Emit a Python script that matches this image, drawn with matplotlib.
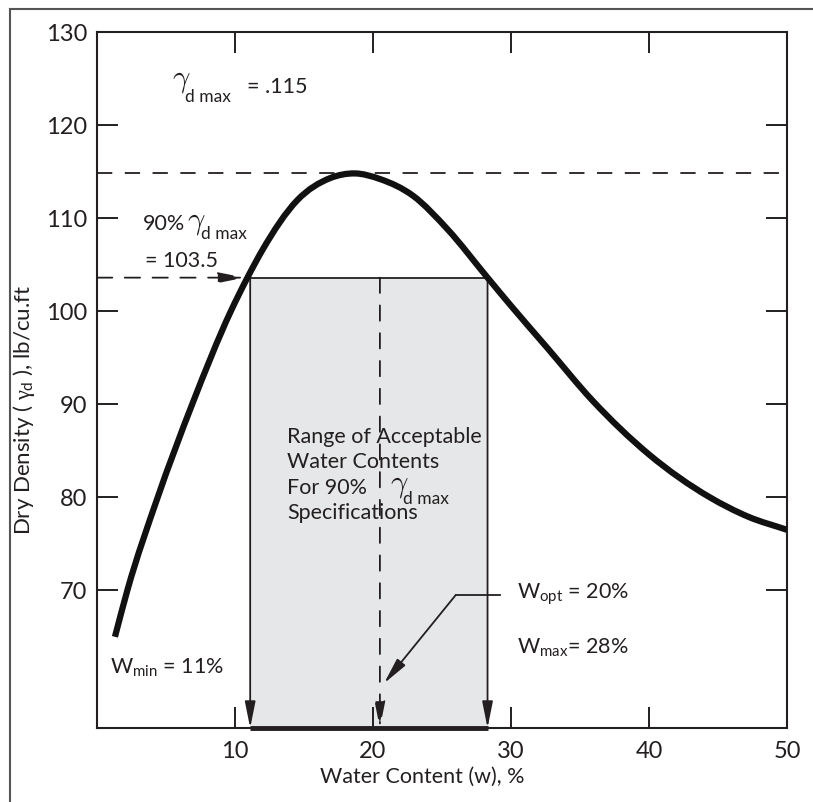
import numpy as np
import matplotlib
matplotlib.use('Agg')
import matplotlib.pyplot as plt
from matplotlib.lines import Line2D
from matplotlib.path import Path
from matplotlib.patches import PathPatch

# compaction curve
water = [1.3, 2.2, 4.4, 6.9, 9.7, 10.9, 12.0, 14.5, 16.9, 18.7, 20.5, 22.9,
         25.4, 28.3, 30.1, 32.6, 35.9, 40.0, 44.4, 47.2, 50.0]
density = [65.0, 70.0, 80.0, 90.0, 100.0, 103.6, 106.6, 111.9, 114.3, 114.8,
           114.2, 112.4, 108.8, 103.6, 100.4, 96.1, 90.4, 84.6, 80.0, 77.9, 76.5]

gamma_max = 114.8
gamma_90 = 103.6
w_min = 11.1
w_opt = 20.5
w_max = 28.3

x_ticks = [10, 20, 30, 40, 50]
y_ticks = [70, 80, 90, 100, 110, 120, 130]

range_lines = ['Range of Acceptable', 'Water Contents', 'For 90%', 'Specifications']

ink = '#231f20'
shade = '#e6e7e8'

plt.rcParams['font.family'] = ['Lato', 'DejaVu Sans']
plt.rcParams['mathtext.fontset'] = 'custom'
plt.rcParams['mathtext.rm'] = 'Lato'
plt.rcParams['mathtext.it'] = 'Liberation Serif'
plt.rcParams['lines.scale_dashes'] = False
plt.rcParams['text.color'] = ink

fig = plt.figure(figsize=(8.13, 8.02), dpi=100)
ax = fig.add_axes([97 / 813, 74 / 802, 690 / 813, 696 / 802])
x0, x1 = 0, 50
y0, y1 = 55.2, 130
ax.set_xlim(x0, x1)
ax.set_ylim(y0, y1)

for s in ax.spines.values():
    s.set_linewidth(1.5)
    s.set_color(ink)

ax.set_xticks(x_ticks)
ax.set_xticklabels([str(t) for t in x_ticks])
ax.set_yticks(y_ticks)
ax.set_yticklabels([str(t) for t in y_ticks])
ax.tick_params(direction='in', length=15, width=1.4, top=True, right=True,
               labelsize=17, color=ink, labelcolor=ink)
ax.tick_params(axis='x', pad=9)
ax.tick_params(axis='y', pad=7)

# acceptable range box
ax.fill_between([w_min, w_max], y0, gamma_90, color=shade, zorder=1, lw=0)
ax.plot([w_min, w_max], [gamma_90, gamma_90], color=ink, lw=1.3, zorder=2)
ax.plot([w_min, w_max], [y0, y0], color=ink, lw=3.5, zorder=5, clip_on=False,
        solid_capstyle='butt')

arrow = dict(arrowstyle='-|>,head_length=1.6,head_width=0.32', color=ink,
             lw=1.3, shrinkA=0, shrinkB=0, mutation_scale=10)
ax.annotate('', xy=(w_min, y0), xytext=(w_min, gamma_90), arrowprops=arrow)
ax.annotate('', xy=(w_max, y0), xytext=(w_max, gamma_90), arrowprops=arrow)

dashed = dict(arrow, linestyle=(0, (11, 9)))
ax.annotate('', xy=(w_opt, y0), xytext=(w_opt, gamma_90), arrowprops=dashed)
ax.annotate('', xy=(10.7, gamma_90), xytext=(x0, gamma_90), arrowprops=dashed)

ax.plot([x0, x1], [gamma_max, gamma_max], color=ink, lw=1.3, dashes=(11, 9))

# the curve: bezier path through the read points, slopes from neighbours
xs = np.array(water)
ys = np.array(density)
h = np.diff(xs)
d = np.diff(ys) / h
m = np.empty_like(ys)
m[0], m[-1] = d[0], d[-1]
m[1:-1] = (d[:-1] * h[1:] + d[1:] * h[:-1]) / (h[:-1] + h[1:])
verts = [(xs[0], ys[0])]
codes = [Path.MOVETO]
for i in range(len(xs) - 1):
    verts += [(xs[i] + h[i] / 3, ys[i] + m[i] * h[i] / 3),
              (xs[i + 1] - h[i] / 3, ys[i + 1] - m[i + 1] * h[i] / 3),
              (xs[i + 1], ys[i + 1])]
    codes += [Path.CURVE4] * 3
ax.add_patch(PathPatch(Path(verts, codes), fill=False, lw=4.5, ec='#111111',
                       zorder=4, capstyle='butt'))

# W_opt leader
ax.plot([29.2, 26.0], [69.5, 69.5], color=ink, lw=1.3)
ax.annotate('', xy=(20.8, 60.0), xytext=(26.0, 69.5), arrowprops=arrow)


def gamma_dmax(x, y, dy=-11):
    ax.text(x, y, r'$\gamma$', fontsize=22, math_fontfamily='cm', zorder=6)
    ax.annotate('d max', xy=(x, y), xytext=(10, dy), textcoords='offset points',
                fontsize=12.5, zorder=6)


fs = 15.5
gamma_dmax(5.4, 124.1)
ax.text(10.9, 123.4, '= .115', fontsize=fs)
ax.text(3.3, 108.7, '90%', fontsize=fs)
gamma_dmax(6.5, 108.9, dy=-8)
ax.text(3.5, 104.7, '= 103.5', fontsize=fs)
for k, line in enumerate(range_lines):
    ax.text(13.8, 85.8 - 2.7 * k, line, fontsize=fs, zorder=6)
gamma_dmax(21.2, 80.6, dy=-9)
ax.text(0.95, 61.1, r'W$_{\mathrm{min}}$ = 11%', fontsize=fs)
ax.text(30.4, 69.1, r'W$_{\mathrm{opt}}$ = 20%', fontsize=fs)
ax.text(30.4, 63.3, r'W$_{\mathrm{max}}$= 28%', fontsize=fs)

ax.set_xlabel('Water Content (w), %', fontsize=fs, color=ink)
ax.xaxis.set_label_coords(0.472, -0.056)
ax.set_ylabel(r'Dry Density ( $\gamma_{\mathrm{d}}$ ), lb/cu.ft', fontsize=fs + 0.5,
              color=ink)
ax.yaxis.set_label_coords(-0.087, 0.457)

# outer frame (only left and top edges show)
fig.add_artist(Line2D([10 / 813, 10 / 813], [0, 1 - 9 / 802], color='#555555', lw=1.5))
fig.add_artist(Line2D([10 / 813, 1], [1 - 9 / 802, 1 - 9 / 802], color='#555555', lw=1.5))

fig.savefig('out.png', dpi=100)
